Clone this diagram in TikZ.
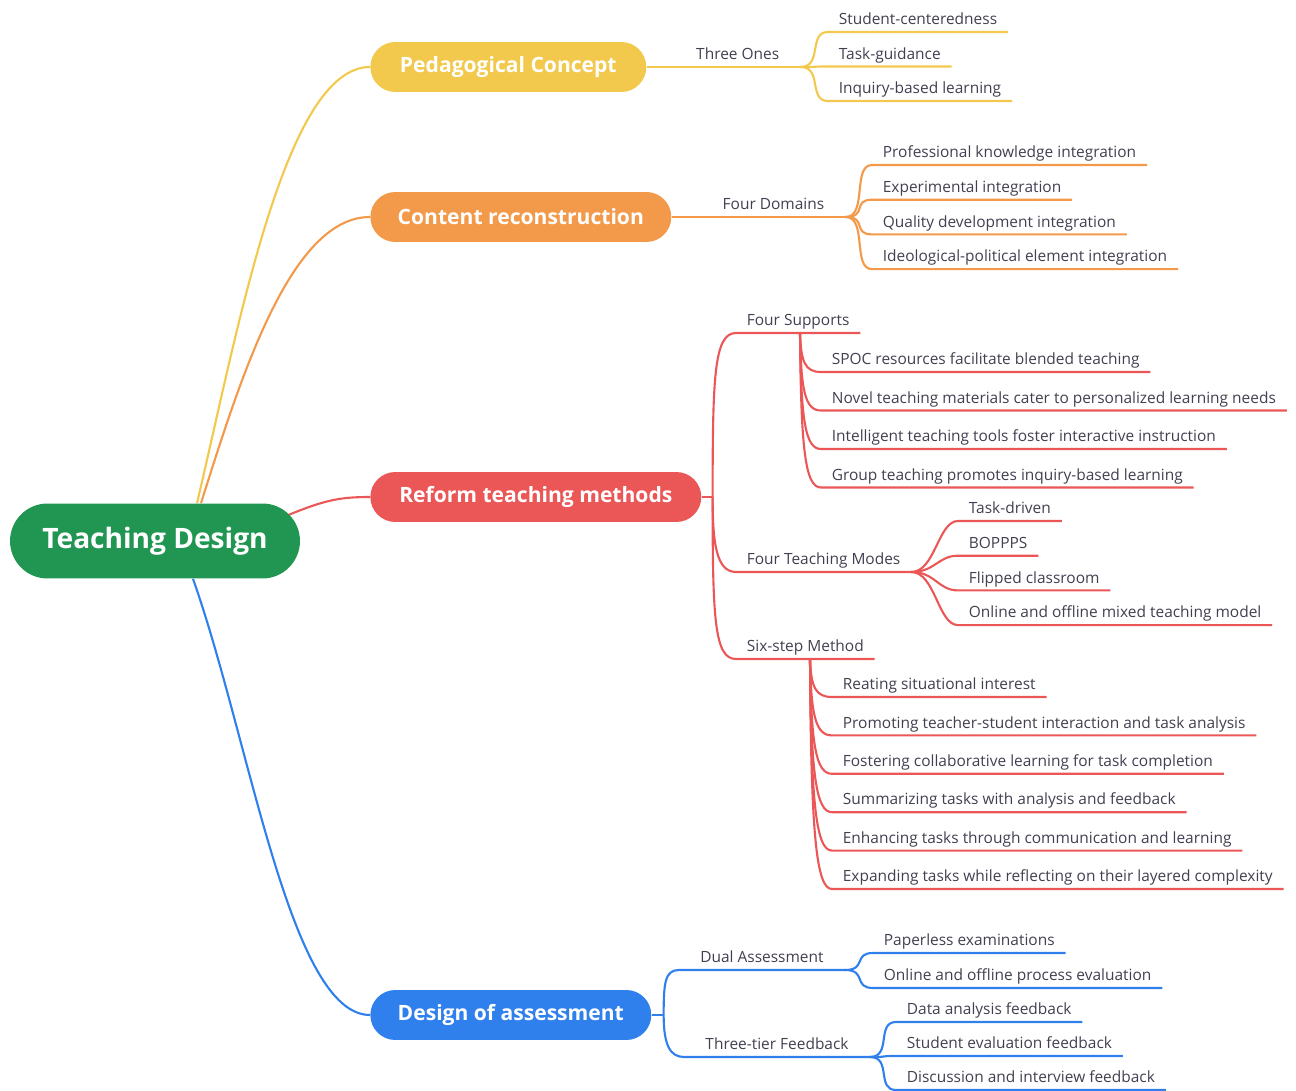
\documentclass[tikz,border=0pt]{standalone}
\usepackage{fontspec}
\setmainfont{Open Sans}
\usetikzlibrary{calc,backgrounds}

\definecolor{tdgreen}{RGB}{33,150,83}
\definecolor{pcyellow}{RGB}{242,201,76}
\definecolor{crorange}{RGB}{242,153,74}
\definecolor{rtred}{RGB}{235,87,87}
\definecolor{dablue}{RGB}{47,128,237}
\definecolor{leafgray}{RGB}{66,64,80}

\begin{document}
\begin{tikzpicture}[x=0.02cm, y=-0.02cm,
	root/.style={fill=tdgreen, text=white, rounded corners=0.75cm,
		minimum width=5.8cm, minimum height=1.5cm,
		font=\fontsize{16}{19}\selectfont\bfseries},
	topic/.style={fill=#1, text=white, rounded corners=0.5cm,
		minimum height=1cm, anchor=west,
		font=\fontsize{12}{14}\selectfont\bfseries},
	sub/.style={text=leafgray, font=\fontsize{8.8}{10}\selectfont,
		inner xsep=12pt, inner ysep=2.5pt, text height=1.6ex, text depth=1.5pt},
	leaf/.style={sub, inner xsep=6pt, anchor=south west},
	branch/.style={draw=#1, line width=1.2pt}
]
\useasboundingbox (0,0) rectangle (1296,1091);

\node[root] (td) at (155,541) {Teaching Design};
\node[topic=pcyellow, minimum width=5.52cm] (pc) at (370,67) {Pedagogical Concept};
\node[topic=crorange, minimum width=6.02cm] (cr) at (370,217) {Content reconstruction};
\node[topic=rtred, minimum width=6.62cm] (rt) at (370,497) {Reform teaching methods};
\node[topic=dablue, minimum width=5.62cm] (da) at (370,1015) {Design of assessment};

% second level
\node[sub, anchor=south east] (thr) at ($(pc.east)+(154,0)$) {Three Ones};
\node[sub, anchor=south east] (fdm) at ($(cr.east)+(174,0)$) {Four Domains};
\node[leaf] (fsu) at (736,333) {Four Supports};
\node[leaf] (ftm) at (736,572) {Four Teaching Modes};
\node[leaf] (ssm) at (736,659) {Six-step Method};
\node[sub, anchor=south east] (dua) at (845,970) {Dual Assessment};
\node[sub, anchor=south east] (ttf) at (870,1057) {Three-tier Feedback};

\coordinate (rtf) at ($(rt.east)+(11,0)$);
\coordinate (daf) at ($(da.east)+(12,0)$);
\coordinate (fsh) at ($(fsu.south west)+(64,0)$);
\coordinate (ssh) at ($(ssm.south west)+(74,0)$);

% leaves
\foreach \t [count=\i] in {Student-centeredness,Task-guidance,Inquiry-based learning}{
	\pgfmathsetmacro{\y}{32+34.5*(\i-1)}
	\node[leaf] (pc\i) at (828,\y) {\t};
}
\foreach \t [count=\i] in {Professional knowledge integration,Experimental integration,
	Quality development integration,Ideological-political element integration}{
	\pgfmathsetmacro{\y}{165+34.7*(\i-1)}
	\node[leaf] (cr\i) at (872,\y) {\t};
}
\foreach \t [count=\i] in {SPOC resources facilitate blended teaching,
	Novel teaching materials cater to personalized learning needs,
	Intelligent teaching tools foster interactive instruction,
	Group teaching promotes inquiry-based learning}{
	\pgfmathsetmacro{\y}{372+38.5*(\i-1)}
	\node[leaf] (fs\i) at (821,\y) {\t};
}
\foreach \t [count=\i] in {Task-driven,BOPPPS,Flipped classroom,
	Online and offline mixed teaching model}{
	\pgfmathsetmacro{\y}{521+34.7*(\i-1)}
	\node[leaf] (tm\i) at (958,\y) {\t};
}
\foreach \t [count=\i] in {Reating situational interest,
	Promoting teacher-student interaction and task analysis,
	Fostering collaborative learning for task completion,
	Summarizing tasks with analysis and feedback,
	Enhancing tasks through communication and learning,
	Expanding tasks while reflecting on their layered complexity}{
	\pgfmathsetmacro{\y}{697+38.4*(\i-1)}
	\node[leaf] (ss\i) at (832,\y) {\t};
}
\foreach \t [count=\i] in {Paperless examinations,Online and offline process evaluation}{
	\pgfmathsetmacro{\y}{953+35*(\i-1)}
	\node[leaf] (du\i) at (873,\y) {\t};
}
\foreach \t [count=\i] in {Data analysis feedback,Student evaluation feedback,
	Discussion and interview feedback}{
	\pgfmathsetmacro{\y}{1022+34*(\i-1)}
	\node[leaf] (tt\i) at (896,\y) {\t};
}

\begin{scope}[on background layer]
% main branches
\draw[branch=pcyellow] ($(td.north)+(42,0)$) .. controls (238,330) and (285,67) .. (pc.west);
\draw[branch=crorange] ($(td.north)+(46,0)$) .. controls (240,380) and (290,217) .. (cr.west);
\draw[branch=rtred] ($(td.east)+(-12,-26)$) .. controls (325,500) and (340,497) .. (rt.west);
\draw[branch=dablue] ($(td.south)+(38,0)$) .. controls (250,740) and (290,1015) .. (da.west);

% pedagogical concept
\draw[branch=pcyellow] (pc.east) -- (thr.south east);
\foreach \i in {1,2,3}
	\draw[branch=pcyellow] (thr.south east) .. controls +(22,0) and +(-20,0)
		.. (pc\i.south west) -- (pc\i.south east);

% content reconstruction
\draw[branch=crorange] (cr.east) -- (fdm.south east);
\foreach \i in {1,...,4}
	\draw[branch=crorange] (fdm.south east) .. controls +(22,0) and +(-20,0)
		.. (cr\i.south west) -- (cr\i.south east);

% reform teaching methods
\draw[branch=rtred] (rt.east) -- (rtf);
\draw[branch=rtred] (rtf) .. controls +(0,-120) and +(-22,0)
	.. (fsu.south west) -- (fsu.south east);
\draw[branch=rtred] (rtf) .. controls +(0,45) and +(-20,0)
	.. (ftm.south west) -- (ftm.south east);
\draw[branch=rtred] (rtf) .. controls +(0,120) and +(-22,0)
	.. (ssm.south west) -- (ssm.south east);
\foreach \i in {1,...,4}{
	\pgfmathsetmacro{\d}{0.75*38.5*\i}
	\draw[branch=rtred] (fsh) .. controls +(1,\d) and +(-16,0)
		.. (fs\i.south west) -- (fs\i.south east);
}
\foreach \i in {1,...,4}
	\draw[branch=rtred] (ftm.south east) .. controls +(24,0) and +(-20,0)
		.. (tm\i.south west) -- (tm\i.south east);
\foreach \i in {1,...,6}{
	\pgfmathsetmacro{\d}{0.75*38.4*\i}
	\draw[branch=rtred] (ssh) .. controls +(1,\d) and +(-16,0)
		.. (ss\i.south west) -- (ss\i.south east);
}

% design of assessment
\draw[branch=dablue] (da.east) -- (daf);
\draw[branch=dablue] (daf) .. controls +(0,-32) and +(-14,0)
	.. (dua.south west) -- (dua.south east);
\draw[branch=dablue] (daf) .. controls +(0,30) and +(-14,0)
	.. (ttf.south west) -- (ttf.south east);
\foreach \i in {1,2}
	\draw[branch=dablue] (dua.south east) .. controls +(22,0) and +(-20,0)
		.. (du\i.south west) -- (du\i.south east);
\foreach \i in {1,2,3}
	\draw[branch=dablue] (ttf.south east) .. controls +(22,0) and +(-20,0)
		.. (tt\i.south west) -- (tt\i.south east);
\end{scope}
\end{tikzpicture}
\end{document}
